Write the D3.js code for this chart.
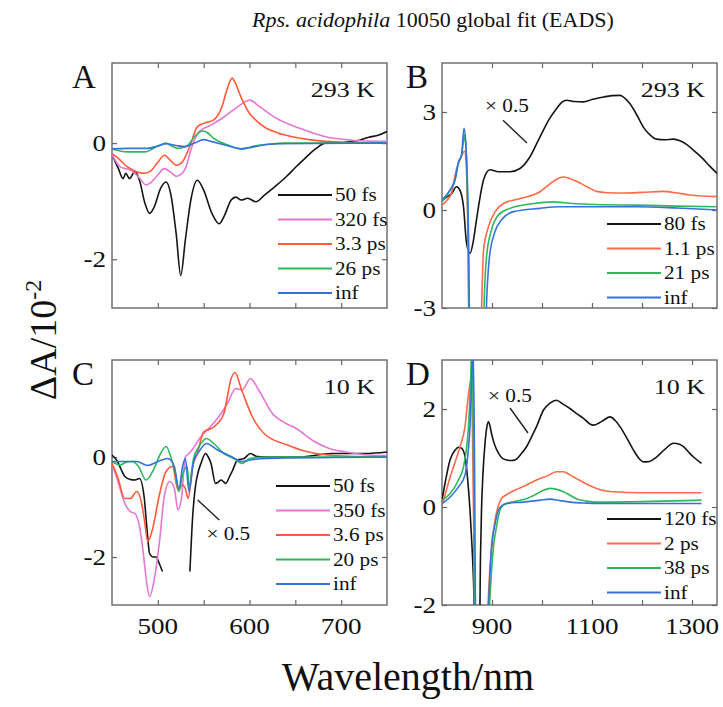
<!DOCTYPE html>
<html>
<head>
<meta charset="utf-8">
<script src="https://cdn.jsdelivr.net/npm/d3@7"></script>
<style>
body { margin: 0; background: #fff; }
svg { display: block; }
</style>
</head>
<body>
<script>
// ---- data: [wavelength nm, dA / 10^-2] ----
var a_50fs = [[450,-0.2],[457,-0.44],[462,-0.61],[465,-0.52],[469,-0.61],[475,-0.49],[480,-0.64],[486,-1.04],[491,-1.21],[496,-1.1],[503,-0.78],[509,-0.67],[514,-0.87],[520,-1.56],[525,-2.28],[530,-1.67],[536,-0.98],[543,-0.64],[550,-0.81],[559,-1.21],[567,-1.39],[572,-1.27],[580,-0.98],[585,-0.93],[591,-0.98],[598,-0.95],[607,-1.01],[616,-0.9],[630,-0.72],[640,-0.58],[650,-0.42],[662,-0.24],[672,-0.1],[683,0],[698,0],[710,0.03],[720,0.05],[730,0.1],[741,0.14],[750,0.2]];
var a_320fs = [[450,-0.2],[459,-0.41],[471,-0.47],[480,-0.6],[487,-0.72],[493,-0.67],[500,-0.55],[507,-0.44],[514,-0.5],[520,-0.57],[527,-0.51],[531,-0.4],[536,-0.12],[545,0.2],[558,0.31],[572,0.45],[585,0.6],[592,0.68],[600,0.74],[611,0.63],[629,0.43],[654,0.26],[683,0.11],[712,0.05],[741,0.03],[750,0.03]];
var a_3_3ps = [[450,-0.18],[456,-0.25],[467,-0.41],[478,-0.5],[486,-0.52],[493,-0.47],[500,-0.33],[507,-0.21],[514,-0.3],[520,-0.38],[527,-0.32],[531,-0.2],[536,-0.01],[543,0.28],[550,0.34],[561,0.4],[570,0.63],[575,0.9],[581,1.12],[585,1.02],[589,0.86],[595,0.65],[600,0.51],[608,0.38],[618,0.26],[630,0.18],[647,0.11],[665,0.06],[683,0.03],[741,0],[750,0]];
var a_26ps = [[450,-0.1],[467,-0.15],[486,-0.15],[500,-0.05],[509,0],[515,-0.05],[522,-0.09],[531,-0.06],[540,0.11],[549,0.21],[555,0.17],[561,0.08],[568,0.02],[576,-0.03],[584,-0.08],[591,-0.1],[598,-0.08],[605,-0.05],[620,-0.02],[640,0],[750,0]];
var a_inf = [[450,-0.1],[467,-0.09],[489,-0.09],[500,-0.05],[509,-0.01],[520,-0.04],[529,-0.06],[540,0],[550,0.06],[558,0.03],[568,-0.01],[580,-0.06],[591,-0.1],[600,-0.08],[612,-0.04],[630,-0.01],[750,0]];

var b_80fs = [[800,0.28],[810,0.4],[819,0.5],[829,0.71],[836,0.6],[843,0.1],[849,-1.0],[856,-1.33],[863,-0.92],[868,-0.4],[873,0.1],[883,0.92],[896,1.23],[913,1.17],[936,1.17],[956,1.27],[976,1.63],[996,2.24],[1016,2.82],[1029,3.1],[1040,3.3],[1049,3.36],[1065,3.32],[1083,3.31],[1100,3.38],[1123,3.46],[1140,3.5],[1156,3.51],[1166,3.42],[1176,3.25],[1190,2.9],[1203,2.53],[1216,2.3],[1229,2.17],[1245,2.15],[1263,2.17],[1276,2.12],[1289,2.01],[1305,1.8],[1323,1.55],[1335,1.35],[1350,1.12]];
var b_1_1ps = [[800,0.15],[810,0.3],[819,0.52],[824,0.9],[829,1.24],[835,1.5],[839,1.65],[845,1.8],[849,1.2],[852,-1.0],[855,-4.5],[876,-4.5],[880,-2.5],[883,-1.24],[893,-0.51],[906,-0.06],[923,0.2],[956,0.35],[996,0.56],[1016,0.8],[1033,0.97],[1043,1.01],[1056,0.96],[1069,0.88],[1089,0.72],[1109,0.57],[1130,0.53],[1163,0.52],[1200,0.54],[1243,0.57],[1270,0.52],[1296,0.46],[1350,0.41]];
var b_21ps = [[800,0.25],[816,0.6],[826,0.92],[833,1.45],[839,1.68],[843,2.1],[845,2.3],[848,1.9],[852,-0.6],[855,-4.5],[881,-4.5],[885,-2.5],[889,-1.43],[899,-0.61],[913,-0.15],[936,0.05],[983,0.2],[1023,0.25],[1045,0.22],[1069,0.19],[1120,0.16],[1189,0.15],[1270,0.12],[1350,0.1]];
var b_inf = [[800,0.31],[816,0.61],[826,0.92],[833,1.48],[839,1.68],[844,2.5],[848,1.94],[853,-0.7],[856,-4.5],[885,-4.5],[890,-2.5],[895,-1.43],[906,-0.66],[919,-0.3],[943,-0.05],[996,0.05],[1033,0.1],[1089,0.1],[1189,0.1],[1270,0.06],[1350,0]];

var c_50fs = [[450,0.04],[456,-0.09],[460,-0.25],[464,-0.39],[470,-0.45],[475,-0.46],[480,-0.43],[485,-0.79],[488,-1.4],[491,-1.93],[495,-2.0],[498,-2.0],[502,-2.15],[505,-2.29], null,
  [535,-2.29],[538,-1.19],[541,-0.59],[544,-0.3],[547,-0.13],[552,0.07],[555,0],[558,-0.13],[563,-0.53],[566,-0.5],[569,-0.46],[572,-0.5],[574,-0.53],[578,-0.4],[581,-0.29],[587,-0.06],[594,-0.03],[601,0.07],[608,0.01],[619,0],[654,0],[690,0.07],[726,0.07],[750,0.1]];
var c_350fs = [[450,-0.13],[456,-0.46],[464,-0.93],[470,-1.09],[475,-1.13],[480,-1.39],[484,-1.9],[487,-2.39],[491,-2.79],[496,-2.46],[502,-1.66],[507,-0.79],[513,-0.49],[518,-0.63],[522,-1.06],[526,-0.79],[530,0],[534,0.07],[540,0.21],[547,0.41],[554,0.54],[565,0.77],[576,1.07],[585,1.37],[592,1.34],[601,1.57],[610,1.34],[625,0.87],[640,0.67],[651,0.57],[669,0.33],[687,0.17],[705,0.1],[741,0.03],[750,0.03]];
var c_3_6ps = [[450,-0.13],[456,-0.39],[464,-0.83],[470,-0.83],[477,-0.69],[483,-0.99],[486,-1.35],[489,-1.69],[494,-1.46],[502,-0.73],[509,-0.29],[516,-0.19],[522,-0.66],[527,-0.56],[530,-0.63],[533,-0.83],[538,-0.19],[543,0.07],[550,0.5],[561,0.6],[572,0.87],[580,1.57],[584,1.69],[592,1.31],[603,0.81],[617,0.45],[640,0.25],[662,0.11],[691,0.03],[750,0]];
var c_20ps = [[450,-0.09],[459,-0.16],[466,-0.1],[472,-0.09],[479,-0.19],[487,-0.46],[496,-0.23],[503,0.07],[509,0.21],[514,0.01],[519,-0.33],[523,-0.69],[527,-0.36],[532,-0.19],[534,-0.59],[539,-0.03],[545,0.21],[553,0.37],[561,0.27],[572,0.07],[583,-0.03],[592,-0.13],[600,-0.03],[619,0],[750,0]];
var c_inf = [[450,-0.09],[462,-0.09],[477,-0.09],[489,-0.17],[500,-0.09],[511,-0.03],[518,-0.19],[523,-0.63],[527,-0.19],[530,-0.03],[534,-0.69],[539,-0.09],[545,0.11],[553,0.27],[565,0.14],[580,0.01],[592,-0.09],[601,-0.06],[619,-0.03],[750,0]];

var d_120fs = [[800,0.14],[806,0.48],[816,0.96],[826,1.16],[833,1.22],[839,1.2],[846,1.03],[851,0.6],[856,-0.06],[860,-0.8],[863,-1.5],[866,-2.6],[875,-2.6],[877,-1.0],[879,-0.06],[882,0.7],[886,1.3],[890,1.65],[893,1.74],[896,1.65],[899,1.5],[906,1.25],[913,1.1],[920,1.0],[929,0.96],[938,0.95],[946,0.96],[958,1.08],[969,1.23],[980,1.45],[989,1.64],[1003,1.98],[1016,2.12],[1029,2.18],[1042,2.1],[1056,2.01],[1070,1.9],[1083,1.81],[1095,1.7],[1103,1.67],[1115,1.72],[1123,1.77],[1136,1.84],[1146,1.77],[1156,1.64],[1170,1.4],[1183,1.16],[1195,0.98],[1203,0.92],[1215,0.93],[1229,1.02],[1245,1.17],[1263,1.3],[1275,1.28],[1283,1.23],[1295,1.1],[1303,1.02],[1319,0.89]];
var d_2ps = [[800,0.04],[809,0.35],[816,0.6],[823,0.82],[836,1.23],[846,1.64],[853,2.3],[858,2.6],[861,1.5],[864,-1],[867,-3],[887,-3],[892,-2.0],[896,-1.22],[901,-0.7],[906,-0.27],[912,0],[919,0.17],[929,0.25],[939,0.31],[954,0.38],[969,0.45],[983,0.52],[996,0.58],[1010,0.63],[1029,0.72],[1043,0.72],[1055,0.66],[1069,0.58],[1089,0.47],[1109,0.38],[1125,0.33],[1143,0.31],[1200,0.29],[1260,0.29],[1319,0.29]];
var d_38ps = [[800,0.14],[816,0.27],[833,0.55],[843,0.82],[849,1.2],[853,1.64],[857,2.5],[860,3.4],[863,1],[866,-3],[890,-3],[895,-2],[899,-1.3],[903,-0.81],[909,-0.4],[916,-0.06],[922,0.03],[929,0.07],[950,0.12],[969,0.17],[990,0.27],[1003,0.34],[1016,0.38],[1029,0.36],[1043,0.31],[1056,0.24],[1069,0.17],[1089,0.12],[1109,0.1],[1200,0.11],[1319,0.14]];
var d_inf = [[800,0.07],[816,0.2],[833,0.41],[846,0.65],[852,1.1],[856,1.64],[859,2.5],[862,3.4],[865,1],[868,-3],[888,-3],[894,-1.8],[899,-0.81],[906,-0.35],[913,-0.06],[920,0.03],[929,0.07],[963,0.1],[996,0.14],[1016,0.16],[1036,0.13],[1056,0.1],[1090,0.08],[1123,0.07],[1200,0.07],[1319,0.07]];

var namesA = ["50 fs", "320 fs", "3.3 ps", "26 ps", "inf"];
var namesB = ["80 fs", "1.1 ps", "21 ps", "inf"];
var namesC = ["50 fs", "350 fs", "3.6 ps", "20 ps", "inf"];
var namesD = ["120 fs", "2 ps", "38 ps", "inf"];

var ticksVis = [500, 550, 600, 650, 700];
var labelsVis = [500, 600, 700];
var ticksNIR = [900, 1000, 1100, 1200, 1300];
var labelsNIR = [900, 1100, 1300];

var col5 = ['#151515', '#e477d4', '#ff5a3a', '#2fb85a', '#3672dc'];
var col4 = ['#151515', '#ff6a48', '#2fb85a', '#3672dc'];

var panels = [
	{ letter: 'A', temp: '293 K', left: 112, right: 387, top: 63, bottom: 308, xDom: [450, 750], yDom: [-2.84, 1.38],
	  xTicks: ticksVis, xLabels: null, yTicks: [-2, 0], series: [a_50fs, a_320fs, a_3_3ps, a_26ps, a_inf], names: namesA, colors: col5,
	  legX: 278, legY: 195 },
	{ letter: 'B', temp: '293 K', left: 442, right: 717, top: 63, bottom: 308, xDom: [800, 1350], yDom: [-3, 4.5],
	  xTicks: ticksNIR, xLabels: null, yTicks: [-3, 0, 3], series: [b_80fs, b_1_1ps, b_21ps, b_inf], names: namesB, colors: col4,
	  legX: 607, legY: 224, note: { text: [886, 3.0], line: [[922, 2.75], [970, 2.05]] } },
	{ letter: 'C', temp: '10 K', left: 112, right: 387, top: 360, bottom: 605, xDom: [450, 750], yDom: [-2.96, 1.94],
	  xTicks: ticksVis, xLabels: labelsVis, yTicks: [-2, 0], series: [c_50fs, c_350fs, c_3_6ps, c_20ps, c_inf], names: namesC, colors: col5,
	  legX: 276, legY: 486, note: { text: [553, -1.66], line: [[543.5, -0.86], [567, -1.26]] } },
	{ letter: 'D', temp: '10 K', left: 442, right: 717, top: 360, bottom: 605, xDom: [800, 1350], yDom: [-2, 3],
	  xTicks: ticksNIR, xLabels: labelsNIR, yTicks: [-2, 0, 2], series: [d_120fs, d_2ps, d_38ps, d_inf], names: namesD, colors: col4,
	  legX: 607, legY: 519, note: { text: [892, 2.14], line: [[936, 2.02], [972, 1.51]] } }
];

var svg = d3.select('body').append('svg')
	.attr('width', 723).attr('height', 707)
	.attr('font-family', "'Liberation Serif', 'Times New Roman', serif");
svg.append('rect').attr('width', 723).attr('height', 707).attr('fill', '#fff');

// the scanned figure is a bit wider than it is tall, so most small texts are stretched
function wideText(parent, x, y, str, size, anchor) {
	return parent.append('text')
		.attr('transform', 'translate(' + x + ',' + y + ') scale(1.18,1)')
		.attr('text-anchor', anchor || 'start')
		.attr('font-size', size)
		.attr('fill', '#111')
		.text(str);
}

panels.forEach(function (p, pi) {
	var x = d3.scaleLinear().domain(p.xDom).range([p.left, p.right]);
	var y = d3.scaleLinear().domain(p.yDom).range([p.bottom, p.top]);
	var g = svg.append('g');

	g.append('clipPath').attr('id', 'clip' + pi)
		.append('rect').attr('x', p.left).attr('y', p.top)
		.attr('width', p.right - p.left).attr('height', p.bottom - p.top);

	// inward ticks on all four sides
	var tk = 5;
	g.append('g').attr('transform', 'translate(0,' + p.bottom + ')')
		.call(d3.axisBottom(x).tickValues(p.xTicks).tickSizeInner(-tk).tickSizeOuter(0).tickFormat(''));
	g.append('g').attr('transform', 'translate(0,' + p.top + ')')
		.call(d3.axisTop(x).tickValues(p.xTicks).tickSizeInner(-tk).tickSizeOuter(0).tickFormat(''));
	g.append('g').attr('transform', 'translate(' + p.left + ',0)')
		.call(d3.axisLeft(y).tickValues(p.yTicks).tickSizeInner(-tk).tickSizeOuter(0).tickFormat(''));
	g.append('g').attr('transform', 'translate(' + p.right + ',0)')
		.call(d3.axisRight(y).tickValues(p.yTicks).tickSizeInner(-tk).tickSizeOuter(0).tickFormat(''));
	g.selectAll('.domain').remove();
	g.selectAll('.tick line').attr('stroke', '#666').attr('stroke-width', 1.2);

	g.append('rect')
		.attr('x', p.left).attr('y', p.top)
		.attr('width', p.right - p.left).attr('height', p.bottom - p.top)
		.attr('fill', 'none').attr('stroke', '#666').attr('stroke-width', 1.4);

	// tick labels
	p.yTicks.forEach(function (v) {
		wideText(g, p.left - 6, y(v) + 8, v, 23, 'end');
	});
	if (p.xLabels) {
		p.xLabels.forEach(function (v) {
			wideText(g, x(v), p.bottom + 29, v, 23, 'middle');
		});
	}

	// spectra
	var line = d3.line()
		.defined(function (d) { return d !== null; })
		.x(function (d) { return x(d[0]); })
		.y(function (d) { return y(d[1]); })
		.curve(d3.curveMonotoneX);

	g.append('g').attr('clip-path', 'url(#clip' + pi + ')')
		.selectAll('path.trace')
		.data(p.series)
		.enter()
		.append('path')
		.attr('class', 'trace')
		.attr('d', line)
		.attr('fill', 'none')
		.attr('stroke', function (d, i) { return p.colors[i]; })
		.attr('stroke-width', 1.6)
		.attr('stroke-linejoin', 'round');

	// legend
	var rowH = 24.5;
	p.names.forEach(function (name, i) {
		var ly = p.legY + i * rowH;
		g.append('line')
			.attr('x1', p.legX).attr('x2', p.legX + 54)
			.attr('y1', ly).attr('y2', ly)
			.attr('stroke', p.colors[i]).attr('stroke-width', 1.8);
		wideText(g, p.legX + 57, ly + 6, name, 18, 'start');
	});

	// panel letter and temperature
	g.append('text')
		.attr('x', p.letter === 'A' || p.letter === 'C' ? 72 : 406)
		.attr('y', p.top + 25)
		.attr('font-size', 33)
		.attr('fill', '#111')
		.text(p.letter);
	wideText(g, p.right - 12, p.top + 34, p.temp, 22, 'end');

	// "x 0.5" note
	if (p.note) {
		wideText(g, x(p.note.text[0]), y(p.note.text[1]), '\u00d7 0.5', 18, 'start');
		g.append('line')
			.attr('x1', x(p.note.line[0][0])).attr('y1', y(p.note.line[0][1]))
			.attr('x2', x(p.note.line[1][0])).attr('y2', y(p.note.line[1][1]))
			.attr('stroke', '#222').attr('stroke-width', 1.4);
	}
});

// title
var title = svg.append('text')
	.attr('x', 433).attr('y', 27)
	.attr('text-anchor', 'middle')
	.attr('font-size', 22)
	.attr('fill', '#111');
title.append('tspan').attr('font-style', 'italic').text('Rps. acidophila');
title.append('tspan').text(' 10050 global fit (EADS)');

// axis titles
svg.append('text')
	.attr('x', 408).attr('y', 690)
	.attr('text-anchor', 'middle')
	.attr('font-size', 40)
	.attr('fill', '#111')
	.text('Wavelength/nm');

var yl = svg.append('text')
	.attr('transform', 'translate(56,340) rotate(-90)')
	.attr('text-anchor', 'middle')
	.attr('font-size', 38)
	.attr('fill', '#111');
yl.append('tspan').text('\u0394A/10');
yl.append('tspan').attr('font-size', 24).attr('dy', -15).text('-2');
</script>
</body>
</html>
